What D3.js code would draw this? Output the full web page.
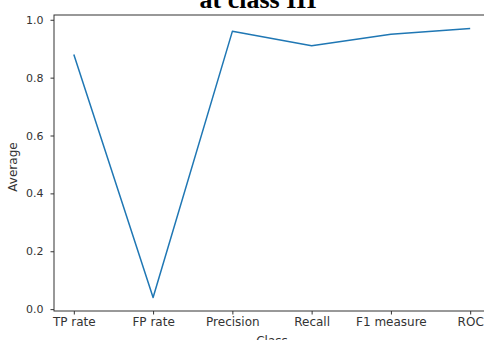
<!DOCTYPE html>
<html>
<head>
<meta charset="utf-8">
<script src="https://cdn.jsdelivr.net/npm/d3@7"></script>
<style>
  html, body { margin: 0; padding: 0; background: #fff; }
  svg { display: block; }
  .tick text { font-family: "DejaVu Sans", sans-serif; fill: #333; }
</style>
</head>
<body>
<svg id="chart" width="484" height="340"></svg>
<script>
// Average metric values per evaluation measure
const categories = ["TP rate", "FP rate", "Precision", "Recall", "F1 measure", "ROC"];
const averages = [0.88, 0.04, 0.96, 0.91, 0.95, 0.97];
const yTicks = [0.0, 0.2, 0.4, 0.6, 0.8, 1.0];
const titleText = "at class III";
const xLabel = "Class";
const yLabel = "Average";

const svg = d3.select("#chart");
const plotLeft = 54, plotRight = 490, plotTop = 15, plotBottom = 311;

// Point scale with quarter-step padding on each side of the category range
const x = d3.scalePoint()
  .domain(categories)
  .range([plotLeft, plotRight])
  .padding(0.25);

// Data range plus a 5% margin
const yMin = d3.min(averages), yMax = d3.max(averages);
const pad = (yMax - yMin) * 0.05;
const y = d3.scaleLinear()
  .domain([yMin - pad, yMax + pad])
  .range([plotBottom, plotTop]);

// Plot line
const line = d3.line()
  .x((d, i) => x(categories[i]))
  .y(d => y(d));

svg.append("path")
  .datum(averages)
  .attr("fill", "none")
  .attr("stroke", "#1f77b4")
  .attr("stroke-width", 1.5)
  .attr("stroke-linejoin", "round")
  .attr("d", line);

// Axes frame
svg.append("rect")
  .attr("x", plotLeft).attr("y", plotTop)
  .attr("width", plotRight - plotLeft).attr("height", plotBottom - plotTop)
  .attr("fill", "none")
  .attr("stroke", "#333")
  .attr("stroke-width", 1);

// X axis
const xAxis = svg.append("g")
  .attr("transform", `translate(0,${plotBottom})`)
  .call(d3.axisBottom(x).tickSize(3.5).tickPadding(3));
xAxis.select(".domain").remove();
xAxis.selectAll(".tick line").attr("stroke", "#333");
xAxis.selectAll(".tick text").attr("font-size", 12);

// Y axis
const yAxis = svg.append("g")
  .attr("transform", `translate(${plotLeft},0)`)
  .call(d3.axisLeft(y).tickValues(yTicks).tickFormat(d3.format(".1f")).tickSize(3.5).tickPadding(7));
yAxis.select(".domain").remove();
yAxis.selectAll(".tick line").attr("stroke", "#333");
yAxis.selectAll(".tick text").attr("font-size", 11);

// Axis labels
svg.append("text")
  .attr("x", (plotLeft + plotRight) / 2)
  .attr("y", 345)
  .attr("text-anchor", "middle")
  .attr("font-family", "DejaVu Sans, sans-serif")
  .attr("font-size", 12)
  .attr("fill", "#333")
  .text(xLabel);

svg.append("text")
  .attr("transform", `translate(17,${(plotTop + plotBottom) / 2 + 4}) rotate(-90)`)
  .attr("text-anchor", "middle")
  .attr("font-family", "DejaVu Sans, sans-serif")
  .attr("font-size", 12)
  .attr("fill", "#333")
  .text(yLabel);

// Title
svg.append("text")
  .attr("x", 258)
  .attr("y", 8)
  .attr("text-anchor", "middle")
  .attr("font-family", "Liberation Serif, Times New Roman, serif")
  .attr("font-weight", "bold")
  .attr("font-size", 26)
  .attr("fill", "#000")
  .text(titleText);
</script>
</body>
</html>
